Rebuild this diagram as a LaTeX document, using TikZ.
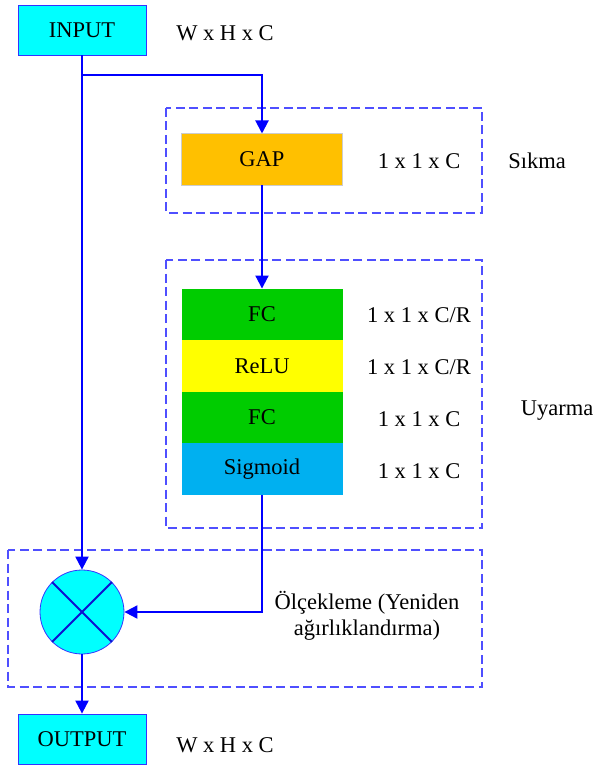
\documentclass[tikz,border=0pt]{standalone}
\usepackage{fontspec}
\setmainfont{Liberation Serif}
\usetikzlibrary{arrows.meta}
\definecolor{lineblue}{HTML}{0000FF}
\definecolor{dashblue}{HTML}{4F4FFF}
\definecolor{cyanfill}{HTML}{00FFFF}
\definecolor{gapfill}{HTML}{FFC000}
\definecolor{fcfill}{HTML}{00CC00}
\definecolor{relufill}{HTML}{FFFF00}
\definecolor{sigfill}{HTML}{00B0F0}
\definecolor{xblue}{HTML}{1010D0}
\tikzset{
  x=1pt, y=-1pt,
  every node/.style={font=\fontsize{22.5}{26}\selectfont},
  iobox/.style={draw=lineblue!80, line width=0.8pt, fill=cyanfill, minimum width=128pt, minimum height=50pt, inner sep=0pt},
  layerbox/.style={minimum width=161pt, minimum height=51.5pt, inner sep=0pt},
  group/.style={draw=dashblue, line width=1.1pt, dash pattern=on 9pt off 4.5pt},
  conn/.style={draw=lineblue, line width=2pt},
  arr/.style={conn, -{Triangle[length=13pt, width=13pt]}},
  lbl/.style={anchor=center}
}
\begin{document}
\begin{tikzpicture}
\useasboundingbox (0,0) rectangle (595,767);
% groups
\draw[group] (166,108) rectangle (482,213);
\draw[group] (166,260) rectangle (482,528);
\draw[group] (8,550) rectangle (482,687);
% nodes
\node[iobox] (in) at (82,30) {INPUT};
\node[lbl] (inlbl) at (225,33) {W x H x C};
\node[layerbox, fill=gapfill, draw=gray!40, line width=0.5pt] (gap) at (262,159.5) {GAP};
\node[lbl] (gaplbl) at (419,161) {1 x 1 x C};
\node[lbl] (sikma) at (537,161) {Sıkma};
\node[layerbox, fill=fcfill] (fc1) at (262,314.5) {FC};
\node[layerbox, fill=relufill] (relu) at (262,366) {ReLU};
\node[layerbox, fill=fcfill] (fc2) at (262,417.5) {FC};
\node[layerbox, fill=sigfill] (sig) at (262,469) {Sigmoid};
\node[lbl] (l1) at (419,315) {1 x 1 x C/R};
\node[lbl] (l2) at (419,367) {1 x 1 x C/R};
\node[lbl] (l3) at (419,419) {1 x 1 x C};
\node[lbl] (l4) at (419,471) {1 x 1 x C};
\node[lbl] (uyarma) at (557,411) {Uyarma};
\node[circle, draw=lineblue!80, line width=0.8pt, fill=cyanfill, minimum size=84pt, inner sep=0pt] (mul) at (82,612) {};
\draw[draw=xblue, line width=2pt] (mul.45) -- (mul.225) (mul.135) -- (mul.315);
\node[lbl, align=center] (scale) at (367,616) {Ölçekleme (Yeniden\\ağırlıklandırma)};
\node[iobox] (out) at (82,739) {OUTPUT};
\node[lbl] (outlbl) at (225,745) {W x H x C};
% connectors
\coordinate (br) at (82,75);
\coordinate (br2) at (262,75);
\coordinate (turn) at (262,612);
\draw[arr] (in.south) -- (mul.north);
\draw[arr] (br) -- (br2) -- (gap.north);
\draw[arr] (gap.south) -- (fc1.north);
\draw[arr] (sig.south) -- (turn) -- (mul.east);
\draw[arr] (mul.south) -- (out.north);
\end{tikzpicture}
\end{document}
